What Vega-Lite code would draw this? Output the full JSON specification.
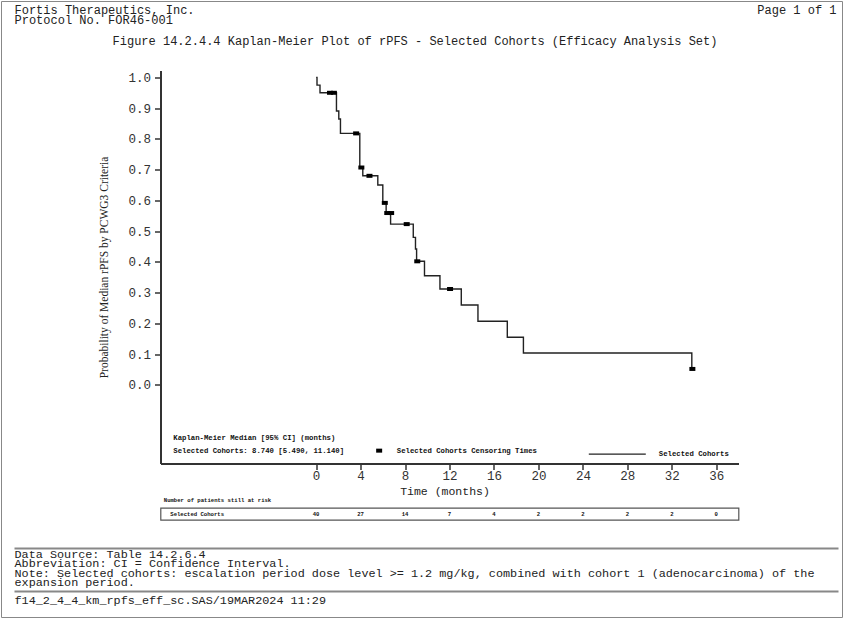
{
  "$schema": "https://vega.github.io/schema/vega-lite/v6.json",
  "background": "white",
  "padding": {"left": 0.5, "top": 0.5, "right": 0, "bottom": 0},
  "bounds": "flush",
  "spacing": 44.3,
  "config": {"view": {"stroke": null}, "font": "Liberation Mono"},
  "datasets": {
    "curve": [
      {"t": 0, "S": 1.0, "series": "Selected Cohorts"},
      {"t": 0.08, "S": 0.975, "series": "Selected Cohorts"},
      {"t": 0.35, "S": 0.95, "series": "Selected Cohorts"},
      {"t": 1.83, "S": 0.891, "series": "Selected Cohorts"},
      {"t": 2.04, "S": 0.865, "series": "Selected Cohorts"},
      {"t": 2.19, "S": 0.818, "series": "Selected Cohorts"},
      {"t": 3.93, "S": 0.707, "series": "Selected Cohorts"},
      {"t": 4.2, "S": 0.68, "series": "Selected Cohorts"},
      {"t": 5.55, "S": 0.65, "series": "Selected Cohorts"},
      {"t": 6.0, "S": 0.592, "series": "Selected Cohorts"},
      {"t": 6.3, "S": 0.559, "series": "Selected Cohorts"},
      {"t": 6.7, "S": 0.523, "series": "Selected Cohorts"},
      {"t": 8.74, "S": 0.48, "series": "Selected Cohorts"},
      {"t": 8.94, "S": 0.442, "series": "Selected Cohorts"},
      {"t": 9.04, "S": 0.402, "series": "Selected Cohorts"},
      {"t": 9.75, "S": 0.355, "series": "Selected Cohorts"},
      {"t": 11.14, "S": 0.312, "series": "Selected Cohorts"},
      {"t": 13.06, "S": 0.26, "series": "Selected Cohorts"},
      {"t": 14.56, "S": 0.207, "series": "Selected Cohorts"},
      {"t": 17.2, "S": 0.155, "series": "Selected Cohorts"},
      {"t": 18.65, "S": 0.104, "series": "Selected Cohorts"},
      {"t": 33.8, "S": 0.052, "series": "Selected Cohorts"},
      {"t": 33.85, "S": 0.052, "series": "Selected Cohorts"}
    ],
    "censor": [
      {"t": 1.25, "S": 0.95, "ctype": "Selected Cohorts Censoring Times"},
      {"t": 1.6, "S": 0.95, "ctype": "Selected Cohorts Censoring Times"},
      {"t": 3.6, "S": 0.818, "ctype": "Selected Cohorts Censoring Times"},
      {"t": 4.07, "S": 0.707, "ctype": "Selected Cohorts Censoring Times"},
      {"t": 4.8, "S": 0.68, "ctype": "Selected Cohorts Censoring Times"},
      {"t": 6.18, "S": 0.592, "ctype": "Selected Cohorts Censoring Times"},
      {"t": 6.4, "S": 0.559, "ctype": "Selected Cohorts Censoring Times"},
      {"t": 6.75, "S": 0.559, "ctype": "Selected Cohorts Censoring Times"},
      {"t": 8.15, "S": 0.523, "ctype": "Selected Cohorts Censoring Times"},
      {"t": 9.1, "S": 0.402, "ctype": "Selected Cohorts Censoring Times"},
      {"t": 12.05, "S": 0.312, "ctype": "Selected Cohorts Censoring Times"},
      {"t": 33.85, "S": 0.052, "ctype": "Selected Cohorts Censoring Times"}
    ],
    "risk": [
      {"group": "Selected Cohorts", "t": 0, "n": 40},
      {"group": "Selected Cohorts", "t": 4, "n": 27},
      {"group": "Selected Cohorts", "t": 8, "n": 14},
      {"group": "Selected Cohorts", "t": 12, "n": 7},
      {"group": "Selected Cohorts", "t": 16, "n": 4},
      {"group": "Selected Cohorts", "t": 20, "n": 2},
      {"group": "Selected Cohorts", "t": 24, "n": 2},
      {"group": "Selected Cohorts", "t": 28, "n": 2},
      {"group": "Selected Cohorts", "t": 32, "n": 2},
      {"group": "Selected Cohorts", "t": 36, "n": 0}
    ],
    "header": [
      {"left": "Fortis Therapeutics, Inc.\nProtocol No. FOR46-001", "right": "Page 1 of 1", "title": "Figure 14.2.4.4 Kaplan-Meier Plot of rPFS - Selected Cohorts (Efficacy Analysis Set)"}
    ],
    "median": [
      {"label": "Kaplan-Meier Median [95% CI] (months)\nSelected Cohorts: 8.740 [5.490, 11.140]"}
    ],
    "footer": [
      {"notes": "Data Source: Table 14.2.6.4\nAbbreviation: CI = Confidence Interval.\nNote: Selected cohorts: escalation period dose level >= 1.2 mg/kg, combined with cohort 1 (adenocarcinoma) of the\nexpansion period.", "file": "f14_2_4_4_km_rpfs_eff_sc.SAS/19MAR2024 11:29"}
    ]
  },
  "vconcat": [
    {
      "width": 578,
      "height": 393,
      "layer": [
        {
          "data": {"values": [{}]},
          "mark": {"type": "rect", "fillOpacity": 0, "stroke": "#888", "strokeWidth": 1},
          "encoding": {
            "x": {"value": -159},
            "x2": {"value": 682},
            "y": {"value": -69},
            "y2": {"value": 547}
          }
        },
        {
          "data": {"name": "header"},
          "mark": {"type": "text", "font": "Liberation Mono", "fontSize": 12, "align": "left", "baseline": "middle", "lineBreak": "\n", "lineHeight": 10, "color": "#222"},
          "encoding": {
            "x": {"value": -146},
            "y": {"value": -60.5},
            "text": {"field": "left"}
          }
        },
        {
          "data": {"name": "header"},
          "mark": {"type": "text", "font": "Liberation Mono", "fontSize": 12, "align": "right", "baseline": "middle", "color": "#222"},
          "encoding": {
            "x": {"value": 676},
            "y": {"value": -60.5},
            "text": {"field": "right"}
          }
        },
        {
          "data": {"name": "header"},
          "mark": {"type": "text", "font": "Liberation Mono", "fontSize": 12, "align": "center", "baseline": "middle", "color": "#222"},
          "encoding": {
            "x": {"value": 254.5},
            "y": {"value": -30},
            "text": {"field": "title"}
          }
        },
        {
          "data": {"name": "curve"},
          "mark": {"type": "line", "interpolate": "step-after", "strokeWidth": 1.4},
          "encoding": {
            "x": {
              "field": "t", "type": "quantitative",
              "scale": {"domain": [-14, 38], "nice": false, "zero": false},
              "axis": {
                "values": [0, 4, 8, 12, 16, 20, 24, 28, 32, 36],
                "tickCount": 12,
                "labelOverlap": false,
                "title": "Time (months)",
                "titleX": 284,
                "titleFont": "Liberation Mono", "titleFontSize": 11.5, "titleFontWeight": "normal", "titleColor": "#222",
                "titlePadding": 3,
                "labelFont": "Liberation Mono", "labelFontSize": 12.5, "labelColor": "#333", "labelPadding": 0,
                "tickSize": 6, "tickColor": "#333", "tickWidth": 1.5,
                "domainColor": "#333", "domainWidth": 2, "grid": false
              }
            },
            "y": {
              "field": "S", "type": "quantitative",
              "scale": {"domain": [-0.2555, 1.0225], "nice": false, "zero": false},
              "axis": {
                "values": [0, 0.1, 0.2, 0.3, 0.4, 0.5, 0.6, 0.7, 0.8, 0.9, 1.0],
                "tickCount": 12,
                "labelOverlap": false,
                "format": ".1f",
                "title": "Probability of Median rPFS by PCWG3 Criteria",
                "titleFont": "Liberation Serif", "titleFontSize": 11.5, "titleFontWeight": "normal", "titleColor": "#222",
                "titlePadding": 18,
                "labelFont": "Liberation Mono", "labelFontSize": 12.5, "labelColor": "#333", "labelPadding": 4,
                "tickSize": 6, "tickColor": "#333", "tickWidth": 1.5,
                "domainColor": "#333", "domainWidth": 2, "grid": false
              }
            },
            "color": {
              "field": "series", "type": "nominal",
              "scale": {"range": ["#222"]},
              "legend": {
                "orient": "none", "legendX": 427.3, "legendY": 354.2, "title": null, "padding": 0,
                "symbolType": "stroke", "symbolSize": 3249, "symbolStrokeWidth": 1.2,
                "labelFont": "Liberation Mono", "labelFontSize": 7.3, "labelFontWeight": "bold", "labelColor": "#111",
                "labelOffset": 12
              }
            }
          }
        },
        {
          "data": {"name": "censor"},
          "mark": {"type": "point", "filled": true, "color": "black", "opacity": 1, "size": 25},
          "encoding": {
            "x": {"field": "t", "type": "quantitative"},
            "y": {"field": "S", "type": "quantitative"},
            "shape": {
              "field": "ctype", "type": "nominal",
              "scale": {"range": ["M-1.2,-0.8H1.2V0.8H-1.2Z"]},
              "legend": {
                "orient": "none", "legendX": 215, "legendY": 376.5, "title": null, "padding": 0,
                "symbolFillColor": "black", "symbolStrokeColor": "black", "symbolSize": 25, "symbolOpacity": 1,
                "labelFont": "Liberation Mono", "labelFontSize": 7.3, "labelFontWeight": "bold", "labelColor": "#111",
                "labelOffset": 14
              }
            }
          }
        },
        {
          "data": {"name": "median"},
          "mark": {"type": "text", "font": "Liberation Mono", "fontSize": 7.3, "fontWeight": "bold", "align": "left", "baseline": "middle", "lineBreak": "\n", "lineHeight": 12.7, "color": "#111"},
          "encoding": {
            "x": {"datum": -12.85},
            "y": {"datum": -0.172},
            "text": {"field": "label"}
          }
        }
      ]
    },
    {
      "width": 578,
      "height": 12,
      "view": {"stroke": "#555", "strokeWidth": 1.2},
      "title": {
        "text": "Number of patients still at risk",
        "anchor": "start",
        "frame": "group",
        "offset": 4.5,
        "dx": 3.3,
        "font": "Liberation Mono",
        "fontSize": 5.6,
        "fontWeight": "bold",
        "color": "#111"
      },
      "layer": [
        {
          "data": {"name": "risk"},
          "mark": {"type": "text", "font": "Liberation Mono", "fontSize": 5.6, "fontWeight": "bold", "color": "#111"},
          "encoding": {
            "x": {"field": "t", "type": "quantitative", "scale": {"domain": [-14, 38], "nice": false, "zero": false}, "axis": null},
            "y": {
              "field": "group", "type": "nominal",
              "axis": {
                "title": null, "domain": false, "ticks": false,
                "labelAlign": "left", "labelPadding": -9.3,
                "labelFont": "Liberation Mono", "labelFontSize": 5.6, "labelFontWeight": "bold", "labelColor": "#111"
              }
            },
            "text": {"field": "n"}
          }
        },
        {
          "data": {"values": [{}]},
          "mark": {"type": "rule", "stroke": "#888", "strokeWidth": 2},
          "encoding": {
            "x": {"value": -146},
            "x2": {"value": 678},
            "y": {"value": 40.7}
          }
        },
        {
          "data": {"name": "footer"},
          "mark": {"type": "text", "font": "Liberation Mono", "fontSize": 11.8, "align": "left", "baseline": "middle", "lineBreak": "\n", "lineHeight": 9.4, "color": "#222"},
          "encoding": {
            "x": {"value": -146},
            "y": {"value": 46.2},
            "text": {"field": "notes"}
          }
        },
        {
          "data": {"values": [{}]},
          "mark": {"type": "rule", "stroke": "#888", "strokeWidth": 2},
          "encoding": {
            "x": {"value": -146},
            "x2": {"value": 678},
            "y": {"value": 83.7}
          }
        },
        {
          "data": {"name": "footer"},
          "mark": {"type": "text", "font": "Liberation Mono", "fontSize": 11.8, "align": "left", "baseline": "middle", "color": "#222"},
          "encoding": {
            "x": {"value": -146},
            "y": {"value": 91.7},
            "text": {"field": "file"}
          }
        }
      ]
    }
  ]
}
